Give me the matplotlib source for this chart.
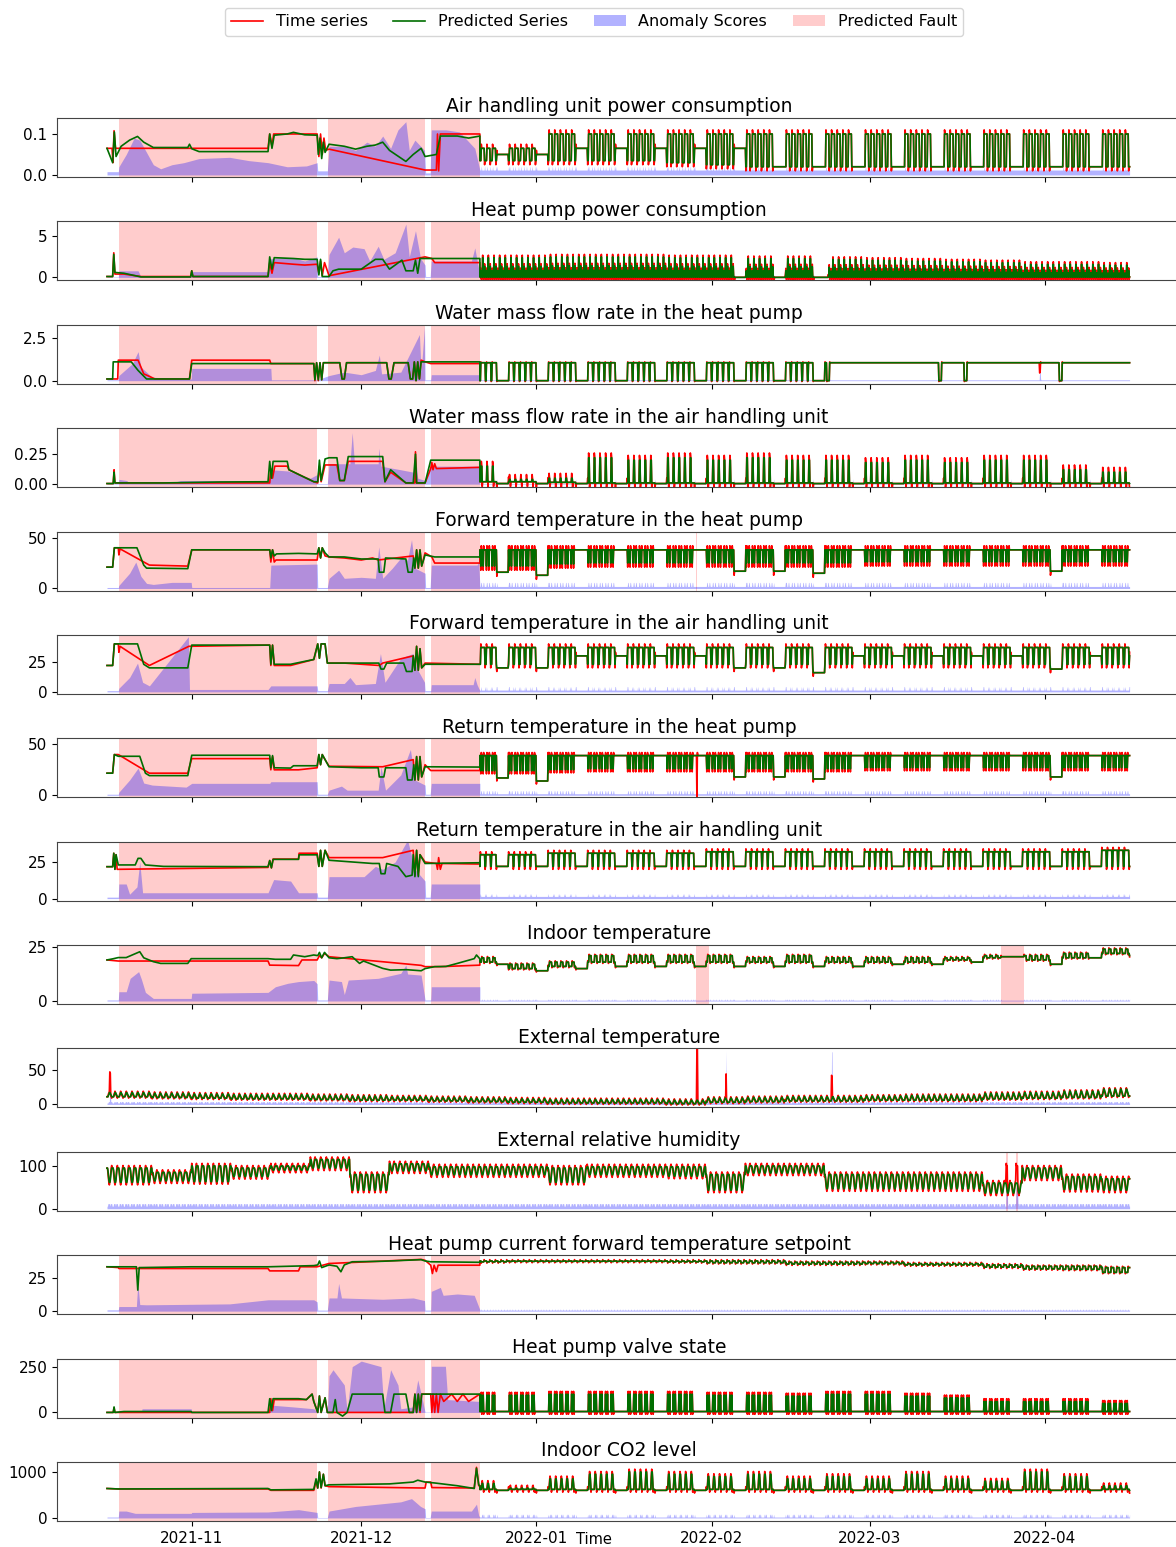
import numpy as np
import matplotlib
matplotlib.use("Agg")
import matplotlib.pyplot as plt
import matplotlib.dates as mdates
from matplotlib.lines import Line2D
from matplotlib.patches import Patch
import datetime as dt

plt.rcParams['font.family'] = ['DejaVu Sans']

# ---------------------------------------------------------------- data
START = dt.datetime(2021, 10, 17)          # day 0 of all offsets below
TITLES = ["Air handling unit power consumption", "Heat pump power consumption",
          "Water mass flow rate in the heat pump", "Water mass flow rate in the air handling unit",
          "Forward temperature in the heat pump", "Forward temperature in the air handling unit",
          "Return temperature in the heat pump", "Return temperature in the air handling unit",
          "Indoor temperature", "External temperature", "External relative humidity",
          "Heat pump current forward temperature setpoint", "Heat pump valve state",
          "Indoor CO2 level"]
LEGEND_LABELS = ["Time series", "Predicted Series", "Anomaly Scores", "Predicted Fault"]

FAULT_SPANS = [(2.1, 37.2), (39.1, 56.3), (57.3, 66.0)]     # days
EXTRA_SPANS_5 = [(104.3, 104.45)]
EXTRA_SPANS_9 = [(104.3, 106.6), (158.2, 162.3)]
EXTRA_SPANS_11 = [(159.1, 159.5), (160.9, 161.3)]

# --- fault-period key points (day, value) -----------------------------
P1_RED = [(0,0.065),(0.9,0.065),(1.05,0.03),(1.25,0.108),(1.5,0.065),(28.5,0.065),(28.8,0.1),(29.2,0.07),(29.5,0.1),(37.2,0.1),(37.5,0.045),(37.8,0.1),(38.1,0.05),(38.4,0.09),(38.7,0.06),(39.3,0.063),(56.3,0.012),(58.3,0.012),(58.5,0.1),(58.7,0.01),(59.0,0.1),(66.0,0.1)]
P1_GRN = [(0,0.065),(1.0,0.03),(1.3,0.105),(1.6,0.045),(2.5,0.07),(4.0,0.085),(5.4,0.094),(6.5,0.08),(8.2,0.067),(14.3,0.067),(14.6,0.075),(15.0,0.064),(16.3,0.057),(28.5,0.057),(28.8,0.1),(29.2,0.065),(29.6,0.097),(31.9,0.1),(33.0,0.104),(35.0,0.098),(37.2,0.097),(37.4,0.05),(37.7,0.09),(38.0,0.04),(38.3,0.08),(38.6,0.055),(39.3,0.075),(42.0,0.07),(44.0,0.063),(46.0,0.07),(47.5,0.073),(48.8,0.08),(50.0,0.06),(52.9,0.033),(54.2,0.05),(55.6,0.065),(56.3,0.045),(58.3,0.05),(59.0,0.095),(62.0,0.095),(64.0,0.09),(66.0,0.095)]
P1_SCO = [(0,0.008),(2.0,0.008),(2.1,0.02),(3.4,0.05),(4.8,0.09),(5.8,0.085),(6.8,0.06),(8.2,0.025),(9.5,0.015),(11.5,0.025),(13.6,0.03),(16.3,0.04),(21.7,0.043),(25.1,0.035),(28.5,0.03),(31.9,0.02),(35.3,0.022),(37.2,0.03),(37.3,0.01),(39.0,0.01),(39.3,0.07),(42.0,0.07),(44.0,0.06),(46.0,0.08),(47.5,0.07),(48.8,0.095),(50.2,0.065),(51.5,0.11),(52.9,0.13),(53.5,0.06),(54.5,0.085),(56.2,0.06),(56.4,0.005),(57.2,0.005),(57.4,0.11),(60.0,0.11),(62.4,0.105),(65.1,0.065),(66.0,0.012)]

P2_RED = [(0,0.1),(1.0,0.1),(1.2,3.0),(1.4,0.4),(3.0,0.4),(6.0,0.1),(14.8,0.1),(15.0,0.8),(15.2,0.1),(28.5,0.1),(28.8,1.8),(29.2,0.5),(29.6,1.8),(33.0,1.6),(35.0,1.5),(37.2,1.6),(37.5,0.5),(37.8,2.0),(38.1,0.2),(38.5,1.8),(39.3,0.2),(56.3,2.5),(57.5,2.3),(58.0,1.8),(66.0,1.8)]
P2_GRN = [(0,0.1),(1.0,0.1),(1.2,2.8),(1.4,0.6),(3.0,0.5),(6.0,0.05),(14.8,0.05),(15.0,0.8),(15.2,0.1),(28.5,0.1),(28.8,2.5),(29.2,1.0),(29.6,2.4),(33.0,2.3),(35.0,2.2),(37.2,2.2),(37.5,0.3),(37.8,2.2),(38.1,0.1),(39.3,0.1),(40.0,0.8),(41.0,1.0),(45.0,1.0),(47.5,2.2),(48.8,2.2),(50.0,1.0),(52.2,2.1),(52.9,0.8),(54.2,0.8),(54.6,2.1),(55.0,0.5),(55.4,2.3),(56.3,2.3),(66.0,2.3)]
P2_SCO = [(0,0.05),(2.0,0.05),(2.1,0.8),(5.5,0.8),(6.0,0.1),(14.9,0.2),(15.0,0.7),(28.5,0.7),(29.0,2.3),(33.0,2.4),(35.0,2.0),(37.2,2.5),(37.3,0.1),(39.0,0.1),(39.3,2.8),(41.0,4.9),(42.0,3.0),(43.5,3.7),(45.5,3.5),(46.5,2.0),(48.0,3.8),(49.0,2.2),(51.0,3.0),(52.9,6.5),(53.5,2.5),(54.6,5.7),(55.5,2.3),(56.3,1.5),(56.4,0.1),(57.2,0.1),(57.4,2.0),(64.5,2.0),(65.1,3.6),(65.8,1.0),(66.0,0.1)]

P3_RED = [(0,0.1),(1.9,0.1),(2.0,1.2),(5.5,1.2),(6.5,0.4),(8.5,0.1),(14.6,0.1),(15.0,1.2),(28.8,1.2),(29.0,1.0),(36.6,1.0),(36.8,0.0),(37.1,1.05),(37.4,0.0),(37.7,1.05),(38.0,0.05),(38.3,1.05),(41.2,1.05),(41.6,0.1),(42.0,0.1),(42.4,1.05),(49.5,1.05),(49.9,0.1),(50.3,0.1),(50.8,1.05),(53.3,1.05),(53.7,0.1),(54.1,0.1),(54.4,1.1),(54.7,0.0),(55.0,1.1),(55.3,0.1),(55.6,1.2),(56.3,1.1),(57.3,1.0),(66.0,1.0)]
P3_GRN = [(0,0.1),(1.0,0.1),(1.1,1.1),(4.3,1.1),(5.5,0.6),(7.0,0.1),(14.6,0.1),(15.0,1.0),(28.8,1.0),(36.6,1.0),(36.8,0.05),(37.1,1.05),(37.4,0.05),(37.7,1.05),(38.0,0.05),(38.3,1.05),(41.2,1.05),(41.6,0.1),(42.0,0.1),(42.4,1.05),(49.5,1.05),(49.9,0.1),(50.3,0.1),(50.8,1.05),(53.3,1.05),(53.7,0.1),(54.1,0.1),(54.4,1.1),(54.7,0.0),(55.0,1.1),(55.3,0.1),(55.6,1.1),(56.3,1.1),(66.0,1.1)]
P3_SCO = [(0,0.05),(2.0,0.05),(2.1,0.3),(4.5,1.0),(5.5,1.7),(6.0,0.8),(8.0,0.2),(14.9,0.1),(15.0,0.72),(29.0,0.72),(29.1,0.05),(37.2,0.05),(39.3,0.3),(42.0,0.5),(45.0,0.35),(47.5,0.6),(48.2,1.5),(48.6,0.4),(52.0,0.5),(55.3,2.7),(55.6,0.5),(56.2,3.2),(56.3,0.05),(57.3,0.05),(57.4,0.35),(66.0,0.35)]

P4_RED = [(0,0.005),(1.1,0.005),(1.25,0.12),(1.4,0.01),(28.8,0.01),(29.0,0.13),(29.3,0.05),(29.7,0.15),(31.9,0.15),(32.2,0.12),(36.6,0.02),(37.3,0.01),(37.6,0.15),(37.9,0.02),(38.6,0.16),(39.3,0.16),(40.7,0.16),(41.2,0.03),(42.0,0.03),(42.7,0.19),(48.8,0.19),(49.2,0.02),(50.2,0.1),(52.9,0.01),(54.5,0.01),(54.6,0.27),(54.8,0.01),(56.3,0.01),(57.3,0.13),(57.5,0.18),(57.7,0.12),(58.0,0.17),(58.3,0.13),(66.0,0.14)]
P4_GRN = [(0,0.005),(1.1,0.005),(1.25,0.1),(1.4,0.01),(10.0,0.01),(20.0,0.018),(28.5,0.02),(28.8,0.19),(29.1,0.05),(29.4,0.19),(31.9,0.19),(32.2,0.12),(36.6,0.02),(37.3,0.02),(37.6,0.2),(37.9,0.03),(38.6,0.21),(39.3,0.22),(40.7,0.22),(41.2,0.03),(42.0,0.03),(42.7,0.23),(48.8,0.23),(49.2,0.02),(50.2,0.12),(52.9,0.01),(54.2,0.01),(54.6,0.25),(54.8,0.01),(56.3,0.01),(57.3,0.2),(66.0,0.2)]
P4_SCO = [(0,0.005),(2.0,0.005),(2.1,0.04),(3.5,0.03),(4.0,0.005),(11.5,0.01),(13.0,0.03),(28.5,0.03),(29.0,0.12),(32.0,0.11),(36.0,0.05),(37.2,0.08),(37.3,0.005),(39.0,0.005),(39.3,0.17),(43.0,0.17),(43.4,0.43),(43.8,0.17),(48.0,0.17),(48.1,0.3),(48.5,0.15),(52.0,0.12),(54.2,0.1),(54.5,0.28),(55.0,0.05),(56.3,0.03),(57.3,0.15),(66.0,0.15)]

P5_RED = [(0,21),(1.0,21),(1.3,40),(2.0,40),(2.1,33),(2.3,39),(7.5,23),(14.3,22),(15.0,38),(28.8,38),(29.0,26),(29.3,38),(29.6,26),(29.9,28),(37.2,28),(37.5,40),(37.8,30),(38.1,40),(38.6,32),(39.3,31),(42.0,30),(45.0,28),(47.0,30),(48.0,28),(54.2,32),(54.5,20),(54.8,38),(55.1,20),(55.4,38),(55.7,22),(56.3,35),(57.5,31),(58.0,25),(66.0,25)]
P5_GRN = [(0,21),(1.0,21),(1.3,40),(5.3,40),(6.5,23),(7.0,20),(14.3,19.5),(15.0,38),(28.8,38),(29.0,30),(29.3,38),(29.6,32),(30.0,34),(33.9,34.5),(37.2,34),(37.5,40),(37.8,30),(38.1,40),(38.6,35),(39.3,31),(42.0,31),(45.0,29),(48.0,29),(48.2,16),(49.0,16),(49.3,30),(52.9,29),(53.3,16),(54.0,16),(54.3,30),(54.5,20),(54.8,38),(55.1,20),(55.4,38),(55.7,22),(56.3,33),(58.0,31),(66.0,31)]
P5_SCO = [(0,1),(2.0,1),(2.1,3),(4.0,15),(5.1,26),(6.0,12),(7.0,5),(8.2,4),(11.5,6),(14.9,6),(15.0,1),(28.8,1),(29.0,23),(37.2,24),(37.3,1),(39.0,1),(39.3,10),(41.0,18),(42.0,10),(45.0,11),(47.5,10),(48.1,41),(48.8,10),(50.5,20),(52.0,30),(53.2,28),(53.9,48),(54.5,20),(56.3,15),(56.4,1),(57.2,1),(57.4,23),(65.5,23),(65.8,26),(66.0,2)]

P6_RED = [(0,22),(1.0,22),(1.3,40),(2.0,40),(2.1,33),(2.3,38),(7.5,22),(14.5,38),(28.8,39),(29.0,22),(29.3,39),(29.6,22),(32.5,22),(36.6,27),(37.3,40),(37.6,28),(37.9,40),(38.6,40),(39.0,24),(42.0,24),(48.2,22),(48.8,24),(54.2,30),(54.5,18),(54.8,38),(55.1,18),(55.4,36),(55.7,20),(56.3,24),(66.0,23)]
P6_GRN = [(0,22),(1.0,22),(1.3,40),(5.4,40),(6.5,23),(7.5,20),(14.3,20),(15.0,39),(28.8,39),(29.0,23),(29.3,39),(29.6,23),(32.5,23),(36.6,27),(37.3,40),(37.6,28),(37.9,40),(38.6,40),(39.0,24),(44.0,24),(48.1,24),(48.5,19),(49.0,19),(49.5,24),(52.5,24),(53.0,17),(54.0,17),(54.2,30),(54.5,18),(54.8,38),(55.1,18),(55.4,36),(55.7,20),(56.3,23),(66.0,23)]
P6_SCO = [(0,1),(2.0,1),(2.1,3),(4.0,12),(5.4,24),(6.3,8),(7.5,5),(14.4,46),(14.6,2),(28.5,2),(29.0,5),(37.2,5),(37.3,1),(39.0,1),(39.3,7),(42.0,7),(43.0,12),(44.0,6),(47.5,7),(48.4,32),(49.2,8),(52.0,28),(53.0,30),(54.2,32),(54.8,20),(56.2,8),(56.3,1),(57.3,1),(57.4,6),(64.8,6),(65.1,12),(65.5,6),(66.0,1)]

P7_RED = [(0,21.7),(1.0,21.7),(1.3,40),(2.0,40),(7.5,21.7),(14.3,21.7),(15.0,36),(28.8,36),(29.0,25),(29.3,38),(29.6,25),(33.9,25),(37.2,27),(37.5,40),(37.8,30),(38.1,40),(38.6,35),(39.3,28.5),(48.8,28),(54.2,35),(54.5,15),(54.8,38),(55.1,15),(55.4,38),(55.7,18),(56.3,30),(57.3,24.3),(66.0,24.3)]
P7_GRN = [(0,21.7),(1.0,21.7),(1.3,40),(2.0,38.3),(5.8,38.3),(6.8,21.7),(7.5,19.3),(14.3,19.3),(15.0,39.3),(28.8,39.3),(29.0,27),(29.3,39),(29.6,27),(32.5,26.7),(33.0,29),(37.2,29),(37.5,40),(37.8,30),(38.1,40),(38.6,35),(39.3,28),(45.0,27),(48.0,27),(48.2,18),(49.0,18),(49.3,27),(52.9,27),(53.2,15),(54.0,15),(54.3,30),(54.5,15),(54.8,38),(55.1,15),(55.4,38),(55.7,18),(56.3,28),(66.0,27.7)]
P7_SCO = [(0,1),(2.0,1),(2.1,3),(4.0,15),(5.5,26.7),(6.5,12),(8.0,10),(14.0,8),(15.0,11.7),(28.8,11.7),(29.0,13.3),(37.2,13.3),(37.3,1),(39.0,1),(39.3,5),(41.5,9),(42.5,5),(48.0,5),(48.5,28),(49.3,5),(52.0,20),(53.7,45),(54.5,15),(56.3,10),(56.4,1),(57.2,1),(57.4,11.7),(66.0,11.7)]

P8_RED = [(0,21.8),(1.0,21.8),(1.2,31),(1.4,20),(1.6,30),(1.8,20),(28.5,21.3),(28.8,26),(29.1,21),(29.4,27),(33.9,27),(34.0,31),(37.2,31),(37.5,22),(37.8,33),(38.1,22),(38.6,33),(39.3,28),(48.8,28),(54.2,33),(54.5,16),(54.8,33),(55.1,16),(55.4,30),(56.3,25),(58.3,24),(58.5,20),(58.7,28),(59.0,20),(59.3,24),(66.0,23.6)]
P8_GRN = [(0,21.8),(1.0,21.8),(1.2,31),(1.4,20),(1.6,30),(2.0,23),(5.0,23),(5.5,27.5),(6.0,27.5),(6.8,23),(10.0,22),(28.5,21.8),(28.8,26),(29.1,21),(29.4,26.8),(33.9,26.8),(34.0,29.9),(37.2,29.9),(37.5,22),(37.8,33),(38.1,22),(38.6,33),(39.3,26.2),(47.0,24),(48.2,24),(48.5,17),(49.2,17),(49.5,24),(51.5,22),(52.9,15),(54.0,16),(54.2,30),(54.5,15),(54.8,33),(55.1,15),(55.4,30),(56.3,24),(66.0,24.5)]
P8_SCO = [(0,1),(2.0,1),(2.1,10),(3.4,10),(4.0,3),(5.3,8),(5.8,25),(6.3,4),(28.5,4),(29.5,13),(32.5,12),(33.9,4),(37.2,4),(37.3,1),(39.0,1),(39.3,15),(45.5,15),(47.5,22),(48.8,20),(51.0,25),(53.2,40),(54.5,20),(56.3,12),(56.4,1),(57.2,1),(57.4,10),(66.0,10)]

P9_RED = [(0,19.0),(2.0,18.5),(28.5,18.5),(28.8,16.6),(33.9,16.4),(34.5,19.0),(37.2,19.0),(37.6,21),(38.0,20),(38.5,22),(39.3,20.5),(55.6,16.5),(56.3,15.9),(59.0,15.9),(66.0,16.6)]
P9_GRN = [(0,19.0),(1.0,19.5),(2.0,20.1),(3.4,20.1),(5.8,22.8),(6.5,20),(8.2,18.2),(9.5,17.4),(14.3,17.4),(14.9,19.6),(28.5,19.6),(29.8,19.3),(32.5,19.3),(33.0,21.3),(35.0,20.5),(36.6,21.3),(37.3,21),(37.6,22.5),(38.0,20),(38.5,22.5),(39.3,20),(40.7,19.6),(42.0,20),(43.4,20.5),(44.7,17.4),(45.4,18.5),(48.8,15.1),(50.2,14.3),(53.0,14.5),(55.6,14.0),(56.3,15.0),(58.0,15.9),(60.0,16),(62.0,17.4),(65.0,19.6),(65.4,21.3),(66.0,19.5)]
P9_SCO = [(0,0.5),(2.0,0.5),(2.1,4.3),(3.4,4.3),(4.1,10.5),(5.6,13.6),(6.1,10),(6.8,4),(8.2,1.2),(14.9,1.2),(15.0,3.6),(28.5,4),(29.8,6.6),(32.0,8.2),(33.9,9),(36.6,9.5),(37.2,8),(37.3,0.5),(39.0,0.5),(39.3,9.7),(41.5,9),(42.0,3),(42.7,9.7),(48.0,10.5),(52.0,12.8),(52.9,16.6),(53.2,12.5),(55.6,12),(56.3,0.5),(57.3,0.5),(57.4,6.6),(66.0,6.6)]

P12_RED = [(0,33.6),(2.0,33),(2.1,32.3),(28.5,32.3),(28.8,30.5),(33.9,30.5),(34.2,33.6),(37.2,33.6),(39.3,36.1),(55.6,39.2),(56.3,38.5),(57.3,34.8),(57.6,28.5),(57.9,34.8),(58.3,30),(58.6,34.8),(66.0,34.8)]
P12_GRN = [(0,33.6),(5.2,33.6),(5.45,15.9),(5.7,33),(14.9,33.6),(28.5,33.6),(36.6,34.5),(37.3,35),(37.6,38),(38.0,33),(39.3,35),(40.7,34),(41.4,29.8),(42.0,35),(43.4,37.4),(48.8,37.8),(55.6,39),(56.3,38),(57.3,37.4),(66.0,37)]
P12_SCO = [(0,1),(2.0,1),(2.1,3.5),(5.2,3.5),(5.45,21),(5.8,5),(7.0,4.8),(21.7,5.5),(28.5,8.6),(36.6,8.6),(37.2,7),(37.3,0.8),(39.0,0.8),(39.3,10),(40.7,10),(41.0,21),(41.5,10),(48.8,9),(54.2,10),(56.2,8),(56.3,0.8),(57.3,0.8),(57.4,15),(59.0,18),(59.5,12),(62.0,13),(65.0,12),(66.0,1)]

P13_RED = [(0,0),(1.1,0),(1.25,25),(1.4,0),(28.8,0),(29.0,75),(29.3,10),(29.6,70),(35.3,70),(36.3,100),(36.6,60),(37.3,0),(37.6,90),(37.9,0),(38.6,80),(39.0,0),(54.2,0),(54.5,100),(54.8,0),(55.1,100),(55.4,0),(55.7,100),(57.3,100),(57.5,0),(57.7,100),(58.0,0),(58.3,100),(58.6,0),(59.0,100),(59.6,60),(61.0,100),(62.0,60),(63.0,100),(64.0,60),(66.0,100)]
P13_GRN = [(0,0),(1.1,0),(1.25,30),(1.4,0),(3.0,5),(14.9,5),(15.0,0),(28.5,0),(28.8,75),(29.1,10),(29.4,75),(33.9,75),(35.3,70),(36.3,100),(36.6,60),(37.3,0),(37.6,90),(37.9,0),(38.6,80),(39.0,0),(40.0,0),(40.4,70),(40.7,0),(41.7,-20),(42.5,0),(43.4,100),(48.8,100),(49.2,0),(50.2,0),(50.8,100),(52.9,100),(53.5,0),(54.2,0),(54.5,100),(54.8,0),(55.1,100),(55.4,10),(55.7,100),(56.3,100),(66.0,100)]
P13_SCO = [(0,2),(2.0,2),(2.1,3),(6.1,3),(6.2,20),(14.9,20),(15.0,2),(28.5,2),(29.0,40),(33.0,30),(36.6,20),(37.3,2),(39.0,2),(39.3,200),(40.0,233),(42.0,150),(42.5,10),(43.4,250),(45.0,280),(48.5,250),(49.0,20),(50.2,233),(51.5,150),(52.0,20),(54.2,30),(55.0,178),(55.6,100),(56.3,2),(57.3,2),(57.4,252),(59.9,252),(60.3,70),(66.0,60)]

P14_RED = [(0,640),(2.0,630),(28.5,630),(29.0,600),(36.6,600),(37.0,800),(37.3,650),(37.6,1000),(37.9,650),(38.3,950),(38.6,700),(39.3,680),(56.3,650),(56.5,780),(57.3,780),(57.5,660),(65.0,650),(65.4,1100),(65.8,700),(66.0,700)]
P14_GRN = [(0,640),(2.0,630),(28.5,640),(29.0,610),(36.6,620),(37.0,850),(37.3,650),(37.6,1000),(37.9,660),(38.3,950),(38.6,700),(39.3,720),(45.0,730),(50.0,740),(54.2,780),(55.0,820),(56.3,780),(58.0,760),(62.0,700),(65.0,640),(65.4,1080),(65.8,720),(66.0,700)]
P14_SCO = [(0,20),(2.0,20),(2.1,150),(3.4,150),(5.0,100),(14.9,100),(15.0,120),(28.5,130),(33.9,180),(37.2,120),(37.3,10),(39.0,10),(39.3,150),(44.0,250),(48.0,300),(52.0,350),(53.9,420),(55.5,250),(56.3,200),(56.4,10),(57.2,10),(57.4,150),(64.5,150),(65.4,300),(65.8,50),(66.0,20)]

# --- normal operation: weekly levels (weeks from Mon 2021-12-20) ------
P1_ON  = [0.065,0.065,0.1,0.1,0.1,0.1,0.1,0.1,0.1,0.1,0.1,0.1,0.1,0.1,0.1,0.1,0.1]
P1_OFF = [0.035,0.035,0.035,0.035,0.035,0.03,0.025,0.02,0.02,0.02,0.02,0.02,0.02,0.02,0.02,0.02,0.02]
P1_WKD = [0.05,0.05,0.065,0.065,0.065,0.065,0.065,0.02,0.02,0.02,0.02,0.02,0.02,0.02,0.02,0.02,0.02]
P2_ON  = [2.4,2.4,2.5,2.5,2.5,2.4,2.4,2.3,2.3,2.2,2.1,2.0,1.9,1.8,1.6,1.6,1.5]
P2_OFF = [0.05]*17
P2_EVENTS = [(111.0,2.0,0.0,'rg'),(118.0,2.0,0.0,'rg'),(125.0,2.6,0.0,'rg')]
P3_ON  = [1.05]*17
P3_OFF = [0.0]*9 + [1.05]*8
P3_WKD = [0.0]*9 + [1.05]*8
P3_EVENTS = [(127.4,0.5,0.0,'rg'),(147.2,0.5,0.0,'rg'),(151.7,0.5,0.0,'rg'),(165.0,0.2,0.5,'r'),(168.5,0.5,0.0,'rg')]
P4_ON  = [0.15,0.04,0.05,0.22,0.2,0.22,0.2,0.22,0.2,0.2,0.18,0.2,0.18,0.2,0.2,0.12,0.1]
P4_OFF = [0.02,0.02,0.015,0.01,0.01,0.01,0.01,0.01,0.01,0.01,0.01,0.01,0.01,0.01,0.01,0.01,0.01]
P4_WKD = [0.005]*17
P5_ON  = [38]*17
P5_OFF = [22,22,24,25,25,25,25,25,25,25,26,26,26,26,26,26,26]
P5_WKD = [16,13,38,38,38,38,17,17,15,38,38,38,38,38,17,38,38]
P6_ON  = [37]*17
P6_OFF = [23]*17
P6_WKD = [20,20,30,30,30,30,20,20,16,30,30,30,30,30,19,30,30]
P7_ON  = [39]*17
P7_OFF = [24,24,25,26,26,26,26,26,26,26,27,27,27,27,27,27,27]
P7_WKD = [17,14,39,39,39,39,18,18,16,39,39,39,39,39,18,39,39]
P7_EVENTS = [(104.35,0.12,0.0,'r')]
P8_ON  = [30,30,31,31,31,31,32,32,32,32,32,32,32,32,32,32,33]
P8_OFF = [22]*17
P8_WKD = [22]*17
P9_ON  = [20,17,18,21,21,21,21,20,21,20,20,20,20,21,21,22,24]
P9_OFF = [18,15,16,18,18,18,18,18,18,18,18,18,19,20,19,20,22]
P9_WKD = [17,14,15,16,16,16,16,16,16,16,17,17,18,20,17,20,21]
P9_EVENTS = [(158.2,4.1,20.5,'rg')]
P12_ON  = [38,38,38,38,38,38,38,38,37,37,37,36,36,35,34,34,33]
P12_OFF = [36,37,37,37,37,36,34,34,33,33,34,33,33,30,28,27,22]
P13_ON  = [95,95,100,100,100,100,95,95,90,100,100,90,80,60,60,60,50]
P13_OFF = [5]*17
P13_WKD = [5]*17
P14_ON  = [750,650,850,950,1000,950,900,950,850,900,850,950,850,800,1000,900,700]
P14_OFF = [620]*17
P14_WKD = [600]*17
# weather series: weekly levels from Mon 2021-10-11 (27 weeks)
P10_ON  = [17,17,16,15,14,14,13,12,11,10,9,8,7,7,7,6,9,10,11,11,12,13,13,16,17,19,22]
P10_OFF = [11,11,10,9,8,8,7,6,6,5,4,3,2,2,2,1,3,4,5,5,6,6,6,8,9,10,12]
P10_EVENTS = [(0.5,0.15,45,'r'),(104.35,0.15,80,'r'),(109.55,0.1,42,'r'),(128.25,0.1,40,'r')]
P10_SCORE_EVENTS = [(109.55,0.1,78),(128.25,0.1,76)]
P11_ON  = [95,95,85,100,95,100,115,80,105,98,98,98,95,98,98,98,80,100,100,80,80,80,80,60,95,75,70]
P11_OFF = [45,45,55,45,65,85,85,25,80,70,70,70,45,70,70,65,25,75,75,30,30,30,30,25,60,30,30]
P11_EVENTS = [(159.1,0.3,100,'r'),(160.9,0.3,100,'r')]

# intra-day shapes (12 two-hour bins, 0 = low level, 9 = high level)
PROFILES = ["000999999900", "003000900050", "009999999999", "000990000000",
            "990999909999", "009999999990", "990999909999", "099999999990",
            "000099999000", "000359975300", "998643346899", "999666666999",
            "000900090000", "000059950000"]
SPIKES = [0.01, 0.3, 0.05, 0.04, 4, 3, 3, 2, 0.6, 2, 6, 1.0, 15, 60]
NORMAL_SCORE = [0.012, 0.08, 0.05, 0.005, 2, 1.5, 1.5, 1.5, 0.4, 2, 6, 0.8, 3, 20]

# ------------------------------------------------------------- helpers
def generate(d0, d1, wk0, on, off, wkend, prof, spike, score0, events=(), sevents=()):
    t = np.arange(d0, d1 + 1e-9, 1.0 / 12)
    on = np.asarray(on, float); off = np.asarray(off, float)
    wi = np.clip(np.floor((t - wk0) / 7).astype(int), 0, len(on) - 1)
    dow = np.floor((t - wk0) % 7 + 1e-9).astype(int)
    hb = np.floor((t % 1.0) * 12 + 1e-6).astype(int) % 12
    f = np.array([int(c) for c in prof]) / 9.0
    base = off[wi] + f[hb] * (on[wi] - off[wi])
    if wkend is not None:
        base = np.where(dow >= 5, np.asarray(wkend, float)[wi], base)
    red = base.copy(); grn = base.copy()
    for (de, dur, val, who) in events:
        m = (t >= de) & (t <= de + dur)
        red[m] = val
        if who == 'rg':
            grn[m] = val
    edge = np.sign(np.diff(red, prepend=red[0]))
    red = red + spike * edge
    sco = score0 + 1.0 * np.abs(red - grn)
    for (de, dur, val) in sevents:
        m = (t >= de) & (t <= de + dur)
        sco[m] = val
    return t, red, grn, sco

def kf(lst):
    a = np.array(lst, float)
    return a[:, 0], a[:, 1]

KEYS = {0: (P1_RED, P1_GRN, P1_SCO), 1: (P2_RED, P2_GRN, P2_SCO), 2: (P3_RED, P3_GRN, P3_SCO),
        3: (P4_RED, P4_GRN, P4_SCO), 4: (P5_RED, P5_GRN, P5_SCO), 5: (P6_RED, P6_GRN, P6_SCO),
        6: (P7_RED, P7_GRN, P7_SCO), 7: (P8_RED, P8_GRN, P8_SCO), 8: (P9_RED, P9_GRN, P9_SCO),
        11: (P12_RED, P12_GRN, P12_SCO), 12: (P13_RED, P13_GRN, P13_SCO), 13: (P14_RED, P14_GRN, P14_SCO)}
NORMAL = {0: (P1_ON, P1_OFF, P1_WKD, ()), 1: (P2_ON, P2_OFF, None, P2_EVENTS),
          2: (P3_ON, P3_OFF, P3_WKD, P3_EVENTS), 3: (P4_ON, P4_OFF, P4_WKD, ()),
          4: (P5_ON, P5_OFF, P5_WKD, ()), 5: (P6_ON, P6_OFF, P6_WKD, ()),
          6: (P7_ON, P7_OFF, P7_WKD, P7_EVENTS), 7: (P8_ON, P8_OFF, P8_WKD, ()),
          8: (P9_ON, P9_OFF, P9_WKD, P9_EVENTS), 11: (P12_ON, P12_OFF, None, ()),
          12: (P13_ON, P13_OFF, P13_WKD, ()), 13: (P14_ON, P14_OFF, P14_WKD, ())}
SPANS = {i: list(FAULT_SPANS) for i in KEYS}
SPANS[4] = FAULT_SPANS + EXTRA_SPANS_5
SPANS[8] = FAULT_SPANS + EXTRA_SPANS_9
SPANS[10] = EXTRA_SPANS_11

# ------------------------------------------------------------- layout
YLIMS = [(-0.005, 0.139), (-0.37, 6.83), (-0.18, 3.27), (-0.025, 0.467), (-2, 56), (-1.7, 47.5),
         (-2, 56), (-1.4, 38.9), (-1.4, 25.9), (-4.4, 80.9), (-4.8, 133), (-2.3, 42.4),
         (-28, 294), (-65, 1217)]
YTICKS = [[0, 0.1], [0, 5], [0, 2.5], [0, 0.25], [0, 50], [0, 25], [0, 50], [0, 25], [0, 25],
          [0, 50], [0, 100], [0, 25], [0, 250], [0, 1000]]

RED = '#ff0000'
GREEN = '#006e00'
W, H = 1176, 1547
fig = plt.figure(figsize=(W / 100, H / 100), dpi=100)
t0 = mdates.date2num(START)

axes = []
for i in range(14):
    top = 118 + i * 103.38
    ax = fig.add_axes([57 / W, 1 - (top + 59) / H, 1124 / W, 59 / H],
                      sharex=axes[0] if axes else None)
    axes.append(ax)

    if i in KEYS:
        rk, gk, sk = KEYS[i]
        on, off, wkd, ev = NORMAL[i]
        gt, gr, gg, gs = generate(66.0, 181.0, 64, on, off, wkd, PROFILES[i], SPIKES[i],
                                  NORMAL_SCORE[i], ev)
        rt, rv = kf(rk); g_t, g_v = kf(gk); st, sv = kf(sk)
        red_t, red_v = np.r_[rt, gt], np.r_[rv, gr]
        grn_t, grn_v = np.r_[g_t, gt], np.r_[g_v, gg]
        sco_t, sco_v = np.r_[st, gt], np.r_[sv, gs]
    elif i == 9:
        red_t, red_v, grn_v, sco_v = generate(0.0, 181.0, -6, P10_ON, P10_OFF, None, PROFILES[i],
                                              SPIKES[i], NORMAL_SCORE[i], P10_EVENTS, P10_SCORE_EVENTS)
        grn_t = sco_t = red_t
    else:
        red_t, red_v, grn_v, sco_v = generate(0.0, 181.0, -6, P11_ON, P11_OFF, None, PROFILES[i],
                                              SPIKES[i], NORMAL_SCORE[i], P11_EVENTS)
        grn_t = sco_t = red_t

    for (a, b) in SPANS.get(i, []):
        ax.axvspan(t0 + a, t0 + b, color='red', alpha=0.2, lw=0)
    ax.fill_between(t0 + sco_t, 0, sco_v, color='blue', alpha=0.3, lw=0)
    ax.plot(t0 + red_t, red_v, color=RED, lw=1.2)
    ax.plot(t0 + grn_t, grn_v, color=GREEN, lw=1.2)

    ax.set_ylim(*YLIMS[i])
    ax.set_yticks(YTICKS[i])
    ax.set_title(TITLES[i], fontsize=13.5, pad=4)
    ax.tick_params(labelsize=11)
    for s in ax.spines.values():
        s.set_color('#444444')
    if i < 13:
        ax.tick_params(labelbottom=False)

axes[0].set_xlim(t0 - 8.85, t0 + 190.1)
axes[0].xaxis.set_major_locator(mdates.MonthLocator())
axes[0].xaxis.set_major_formatter(mdates.DateFormatter('%Y-%m'))

fig.text(594 / W, 1 - 1539 / H, "Time", ha='center', va='center', fontsize=10.5)

handles = [Line2D([0], [0], color=RED, lw=1.2), Line2D([0], [0], color=GREEN, lw=1.2),
           Patch(facecolor='blue', alpha=0.3, lw=0), Patch(facecolor='red', alpha=0.2, lw=0)]
fig.legend(handles, LEGEND_LABELS, loc='upper center', bbox_to_anchor=(594 / W, 1.0),
           ncol=4, fontsize=11.5, frameon=True, columnspacing=1.6)

fig.savefig("out.png", dpi=100)
